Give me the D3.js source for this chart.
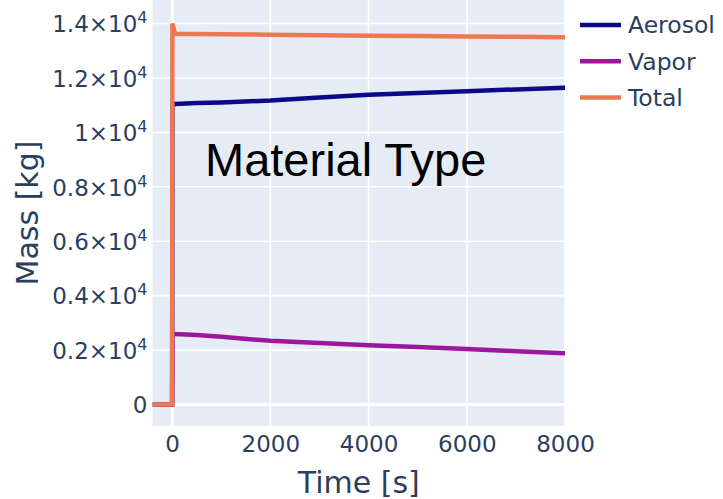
<!DOCTYPE html>
<html><head><meta charset="utf-8">
<script src="https://cdn.jsdelivr.net/npm/d3@7"></script>
<style>html,body{margin:0;padding:0;background:#fff;}svg{display:block;}</style>
</head><body>
<svg id="chart" width="723" height="499"></svg>
<script>
const time    = [-400, 0, 5, 60, 500, 1000, 2000, 3000, 4000, 5000, 6000, 7000, 8000];
const aerosol = [0, 0, 11000, 11040, 11080, 11100, 11170, 11280, 11380, 11450, 11515, 11580, 11640];
const vapor   = [0, 0, 2600, 2590, 2550, 2490, 2340, 2260, 2180, 2110, 2040, 1960, 1880];
const total   = [0, 0, 14000, 13620, 13615, 13610, 13590, 13570, 13555, 13540, 13525, 13510, 13500];
const seriesNames = ["Aerosol", "Vapor", "Total"];
const seriesColors = ["#0d0887", "#9c179e", "#ed7953"];
const xTicks = [0, 2000, 4000, 6000, 8000];
const yTicks = [0, 2000, 4000, 6000, 8000, 10000, 12000, 14000];
const yTickMantissa = ["0", "0.2", "0.4", "0.6", "0.8", "1", "1.2", "1.4"];
const xTitle = "Time [s]", yTitle = "Mass [kg]", annotation = "Material Type";

const svg = d3.select("#chart");
const L = 152.5, R = 565, T = 0, B = 426;
const x = d3.scaleLinear().domain([-400, 8000]).range([L, R]);
const y = d3.scaleLinear().domain([-790, 14865]).range([B, T]);
const font = "'DejaVu Sans', Verdana, sans-serif";
const txtColor = "#2a3f5f";

svg.append("rect").attr("x", L).attr("y", T).attr("width", R - L).attr("height", B - T).attr("fill", "#e5ecf6");

const g = svg.append("g");
g.selectAll(".gx").data(xTicks).join("line")
  .attr("x1", d => x(d)).attr("x2", d => x(d)).attr("y1", T).attr("y2", B)
  .attr("stroke", "#fff").attr("stroke-width", d => d === 0 ? 3 : 1.6);
g.selectAll(".gy").data(yTicks).join("line")
  .attr("y1", d => y(d)).attr("y2", d => y(d)).attr("x1", L).attr("x2", R)
  .attr("stroke", "#fff").attr("stroke-width", d => d === 0 ? 3 : 1.6);

const xAxis = d3.axisBottom(x).tickValues(xTicks).tickSize(0).tickPadding(10).tickFormat(d3.format("d"));
const xa = svg.append("g").attr("transform", `translate(0,${B})`).call(xAxis);
xa.select(".domain").remove();
xa.selectAll("text").attr("font-family", font).attr("font-size", 23).attr("fill", txtColor).attr("dy", "0.71em");

const yAxis = d3.axisLeft(y).tickValues(yTicks).tickSize(0).tickPadding(6).tickFormat(() => "");
const ya = svg.append("g").attr("transform", `translate(${L},0)`).call(yAxis);
ya.select(".domain").remove();
ya.selectAll(".tick text").each(function(d, i) {
  const t = d3.select(this).attr("font-family", font).attr("font-size", 23).attr("fill", txtColor).attr("dy", "0.36em").attr("x", -5);
  t.text(null);
  if (d === 0) { t.text("0"); return; }
  t.append("tspan").text(yTickMantissa[i] + "\u00d710");
  t.append("tspan").attr("font-size", 16).attr("dy", -9).text("4");
});

const lineGen = d3.line().x(d => x(d[0])).y(d => y(d[1]));
const seriesVals = [aerosol, vapor, total];
svg.append("clipPath").attr("id", "clip").append("rect").attr("x", L).attr("y", T - 10).attr("width", R - L).attr("height", B - T + 10);
seriesVals.forEach((vals, k) => {
  svg.append("path").datum(time.map((t, i) => [t, vals[i]]))
    .attr("d", lineGen).attr("fill", "none").attr("stroke", seriesColors[k])
    .attr("stroke-width", 4.5).attr("stroke-linejoin", "miter").attr("stroke-miterlimit", 2)
    .attr("clip-path", "url(#clip)");
});

const lg = svg.append("g");
seriesNames.forEach((n, k) => {
  const cy = 25 + k * 36.3;
  lg.append("line").attr("x1", 580).attr("x2", 621).attr("y1", cy).attr("y2", cy)
    .attr("stroke", seriesColors[k]).attr("stroke-width", 4.5);
  lg.append("text").attr("x", 628).attr("y", cy).attr("dy", "0.36em")
    .attr("font-family", font).attr("font-size", 23.5).attr("fill", txtColor).text(n);
});

svg.append("text").attr("x", (L + R) / 2).attr("y", 493).attr("text-anchor", "middle")
  .attr("font-family", font).attr("font-size", 30).attr("fill", txtColor).text(xTitle);
svg.append("text").attr("transform", `translate(38,${(T + B) / 2}) rotate(-90)`).attr("text-anchor", "middle")
  .attr("font-family", font).attr("font-size", 30).attr("fill", txtColor).text(yTitle);

svg.append("text").attr("x", 205).attr("y", 176).attr("font-family", "'Liberation Sans', Arial, sans-serif")
  .attr("font-size", 47).attr("fill", "#000").text(annotation);
</script>
</body></html>
